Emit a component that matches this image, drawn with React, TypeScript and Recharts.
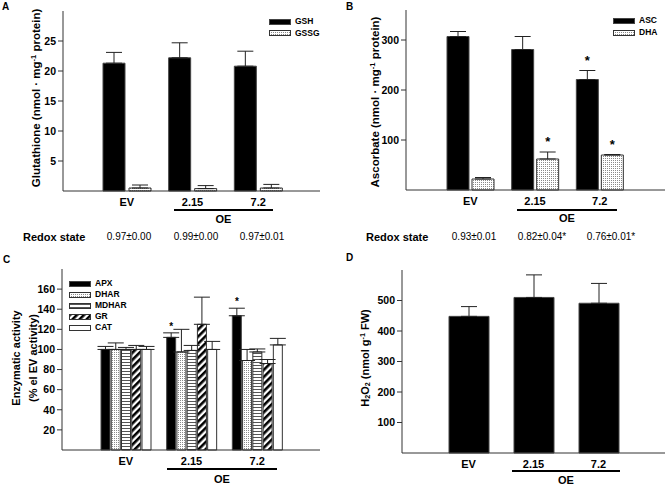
import React from "react";
import { BarChart, Bar, XAxis, YAxis, ErrorBar, LabelList } from "recharts";

const FONT = "'Liberation Sans', Arial, Helvetica, sans-serif";

const groups = ["EV", "2.15", "7.2"];

// A - glutathione
const gshMean = [21.3, 22.2, 20.8];
const gshSd = [1.8, 2.5, 2.5];
const gssgMean = [0.5, 0.4, 0.5];
const gssgSd = [0.5, 0.5, 0.6];
const redoxA = ["0.97±0.00", "0.99±0.00", "0.97±0.01"];
const ticksA = [5, 10, 15, 20, 25];

// B - ascorbate
const ascMean = [307, 281, 221];
const ascSd = [10, 26, 18];
const ascSig = ["", "", "*"];
const dhaMean = [22, 62, 70];
const dhaSd = [3, 14, 1];
const dhaSig = ["", "*", "*"];
const redoxB = ["0.93±0.01", "0.82±0.04*", "0.76±0.01*"];
const ticksB = [100, 200, 300];

// C - enzymatic activity (% of EV)
const apxMean = [100, 112, 133.5];
const apxSd = [3, 4.5, 7.5];
const apxSig = ["", "*", "*"];
const dharMean = [100, 97.5, 89];
const dharSd = [6.5, 22.5, 11];
const mdharMean = [100, 99, 97.5];
const mdharSd = [2, 5, 3];
const grMean = [100, 125, 86];
const grSd = [4, 27, 4];
const catMean = [100, 100, 104.5];
const catSd = [3, 8, 6.5];
const ticksC = [20, 40, 60, 80, 100, 120, 140, 160];

// D - H2O2
const h2o2Mean = [448, 510, 491];
const h2o2Sd = [32, 74, 65];
const ticksD = [100, 200, 300, 400, 500];

type Series = {
  key: string;
  name: string;
  mean: number[];
  sd: number[];
  sig?: string[];
  fill: string;
  stroke: string;
};

const serA: Series[] = [
  { key: "gsh", name: "GSH", mean: gshMean, sd: gshSd, fill: "#000", stroke: "#444" },
  { key: "gssg", name: "GSSG", mean: gssgMean, sd: gssgSd, fill: "url(#dots)", stroke: "#333" },
];
const serB: Series[] = [
  { key: "asc", name: "ASC", mean: ascMean, sd: ascSd, sig: ascSig, fill: "#000", stroke: "#444" },
  { key: "dha", name: "DHA", mean: dhaMean, sd: dhaSd, sig: dhaSig, fill: "url(#dots)", stroke: "#333" },
];
const serC: Series[] = [
  { key: "apx", name: "APX", mean: apxMean, sd: apxSd, sig: apxSig, fill: "#000", stroke: "#444" },
  { key: "dhar", name: "DHAR", mean: dharMean, sd: dharSd, fill: "url(#dots)", stroke: "#333" },
  { key: "mdhar", name: "MDHAR", mean: mdharMean, sd: mdharSd, fill: "url(#hlines)", stroke: "#333" },
  { key: "gr", name: "GR", mean: grMean, sd: grSd, fill: "url(#diag)", stroke: "#333" },
  { key: "cat", name: "CAT", mean: catMean, sd: catSd, fill: "#fff", stroke: "#333" },
];
const serD: Series[] = [
  { key: "h2o2", name: "H2O2", mean: h2o2Mean, sd: h2o2Sd, fill: "#000", stroke: "#444" },
];

function buildRows(series: Series[]) {
  return groups.map((g, i) => {
    const row: any = { group: g, i };
    series.forEach((s) => {
      row[s.key] = s.mean[i];
      row[s.key + "Err"] = [0, s.sd[i]];
    });
    return row;
  });
}

const starContent = (s: Series, size: number, gap: number) => (p: any) => {
  const i = p.value;
  const mark = s.sig ? s.sig[i] : "";
  if (!mark) return null;
  const vb = p.viewBox || p;
  const errPx = s.mean[i] ? (s.sd[i] * vb.height) / s.mean[i] : 0;
  return (
    <text
      x={vb.x + vb.width / 2}
      y={vb.y - errPx - gap}
      textAnchor="middle"
      fontSize={size}
      fontWeight="bold"
      fontFamily={FONT}
      fill="#000"
    >
      {mark}
    </text>
  );
};

const tickStyle = { fill: "#000", fontSize: 10.5, fontWeight: "bold", fontFamily: FONT };

type PanelProps = {
  left: number;
  top: number;
  margin: { top: number; right: number; left: number; bottom: number };
  xHeight: number;
  pad: { left: number; right: number };
  domain: [number, number];
  ticks: number[];
  barSize: number;
  barGap: number;
  series: Series[];
  starSize?: number;
  starGap?: number;
};

function Panel(props: PanelProps) {
  const { left, top, margin, xHeight, pad, domain, ticks, barSize, barGap, series } = props;
  const data = buildRows(series);
  return (
    <div style={{ position: "absolute", left, top }}>
      <BarChart width={333} height={230} data={data} margin={margin} barSize={barSize} barGap={barGap}>
        <XAxis
          dataKey="group"
          padding={pad}
          height={xHeight}
          interval={0}
          tickLine={false}
          tickSize={0}
          tickMargin={7}
          axisLine={{ stroke: "#333" }}
          tick={{ ...tickStyle, fontSize: 11 }}
        />
        <XAxis
          xAxisId="top"
          orientation="top"
          dataKey="group"
          padding={pad}
          height={0}
          tick={false}
          tickLine={false}
          axisLine={{ stroke: "#333" }}
        />
        <YAxis
          type="number"
          domain={domain}
          ticks={ticks}
          width={40}
          tickSize={5}
          tickMargin={2}
          tickLine={{ stroke: "#333" }}
          axisLine={{ stroke: "#333" }}
          tick={tickStyle}
        />
        <YAxis
          yAxisId="r"
          orientation="right"
          type="number"
          domain={domain}
          width={0}
          tick={false}
          tickLine={false}
          axisLine={{ stroke: "#333" }}
        />
        {series.map((s) => (
          <Bar key={s.key} dataKey={s.key} fill={s.fill} stroke={s.stroke} strokeWidth={1} isAnimationActive={false}>
            <ErrorBar dataKey={s.key + "Err"} direction="y" width={8} stroke="#222" strokeWidth={1} isAnimationActive={false} />
            {s.sig && (
              <LabelList
                dataKey={(r: any) => r.i}
                content={starContent(s, props.starSize ?? 13, props.starGap ?? 5)}
              />
            )}
          </Bar>
        ))}
      </BarChart>
    </div>
  );
}

const txt = (extra: React.CSSProperties): React.CSSProperties => ({
  position: "absolute",
  fontFamily: FONT,
  color: "#000",
  whiteSpace: "nowrap",
  lineHeight: 1,
  ...extra,
});

function Centered({ x, y, size = 10, bold = false, children }: any) {
  return (
    <div style={txt({ left: x, top: y, fontSize: size, fontWeight: bold ? "bold" : "normal", transform: "translate(-50%, -50%)" })}>
      {children}
    </div>
  );
}

function VLabel({ x, y, size = 11, children }: any) {
  return (
    <div style={txt({ left: x, top: y, fontSize: size, fontWeight: "bold", transform: "translate(-50%, -50%) rotate(-90deg)" })}>
      {children}
    </div>
  );
}

function Swatches({ left, top, rowH, items }: { left: number; top: number; rowH: number; items: Series[] }) {
  return (
    <div style={{ position: "absolute", left, top }}>
      {items.map((s) => (
        <div key={s.key} style={{ display: "flex", alignItems: "center", height: rowH }}>
          <svg width={22} height={6} style={{ display: "block" }}>
            <rect x={0.5} y={0.5} width={21} height={5} fill={s.fill} stroke={s.stroke} />
          </svg>
          <span style={{ marginLeft: 4, fontSize: 8.5, fontWeight: "bold", fontFamily: FONT, lineHeight: 1 }}>{s.name}</span>
        </div>
      ))}
    </div>
  );
}

function OeBar({ x1, x2, y, textY }: { x1: number; x2: number; y: number; textY: number }) {
  return (
    <>
      <div style={{ position: "absolute", left: x1, top: y - 1, width: x2 - x1, height: 2, background: "#000" }} />
      <Centered x={(x1 + x2) / 2} y={textY} size={11} bold>
        OE
      </Centered>
    </>
  );
}

const sup: React.CSSProperties = { fontSize: "0.65em", verticalAlign: "0.55em" };
const sub: React.CSSProperties = { fontSize: "0.65em", verticalAlign: "-0.25em" };

export default function App() {
  return (
    <div style={{ position: "relative", width: 666, height: 486, background: "#fff", overflow: "hidden" }}>
      <style>{"body{margin:0}"}</style>
      <svg width={0} height={0} style={{ position: "absolute" }}>
        <defs>
          <pattern id="dots" width={2} height={2} patternUnits="userSpaceOnUse">
            <rect width={2} height={2} fill="#fff" />
            <rect width={1} height={1} fill="#8a8a8a" />
          </pattern>
          <pattern id="hlines" width={3} height={3} patternUnits="userSpaceOnUse">
            <rect width={3} height={3} fill="#fff" />
            <rect y={1} width={3} height={1} fill="#555" />
          </pattern>
          <pattern id="diag" width={5} height={5} patternUnits="userSpaceOnUse" patternTransform="rotate(45)">
            <rect width={5} height={5} fill="#fff" />
            <rect width={2.6} height={5} fill="#000" />
          </pattern>
        </defs>
      </svg>

      {/* A */}
      <Panel
        left={0}
        top={0}
        margin={{ top: 11, right: 13, left: 23, bottom: 0 }}
        xHeight={39}
        pad={{ left: 31, right: 29 }}
        domain={[0, 30]}
        ticks={ticksA}
        barSize={22}
        barGap={4}
        series={serA}
      />
      {/* B */}
      <Panel
        left={333}
        top={0}
        margin={{ top: 10, right: 1, left: 33, bottom: 0 }}
        xHeight={40}
        pad={{ left: 32, right: 33 }}
        domain={[0, 360]}
        ticks={ticksB}
        barSize={22}
        barGap={3}
        series={serB}
        starSize={13}
        starGap={6}
      />
      {/* C */}
      <Panel
        left={0}
        top={250}
        margin={{ top: 19, right: 13, left: 22, bottom: 0 }}
        xHeight={30}
        pad={{ left: 31, right: 30 }}
        domain={[0, 180]}
        ticks={ticksC}
        barSize={9}
        barGap={1.25}
        series={serC}
        starSize={10}
        starGap={3}
      />
      {/* D */}
      <Panel
        left={333}
        top={250}
        margin={{ top: 20, right: 1, left: 29, bottom: 0 }}
        xHeight={27}
        pad={{ left: 34, right: 34 }}
        domain={[0, 600]}
        ticks={ticksD}
        barSize={40}
        barGap={2}
        series={serD}
      />

      {/* panel letters */}
      <div style={txt({ left: 2, top: 2, fontSize: 10, fontWeight: "bold" })}>A</div>
      <div style={txt({ left: 346, top: 2, fontSize: 10, fontWeight: "bold" })}>B</div>
      <div style={txt({ left: 3, top: 255, fontSize: 10, fontWeight: "bold" })}>C</div>
      <div style={txt({ left: 346, top: 253, fontSize: 10, fontWeight: "bold" })}>D</div>

      {/* axis titles */}
      <VLabel x={36} y={98} size={11.5}>
        Glutathione (nmol · mg<span style={sup}>-1</span> protein)
      </VLabel>
      <VLabel x={375} y={102} size={11.5}>
        Ascorbate (nmol · mg<span style={sup}>-1</span> protein)
      </VLabel>
      <VLabel x={16} y={358}>
        Enzymatic activity
      </VLabel>
      <VLabel x={33} y={358}>
        (% el EV activity)
      </VLabel>
      <VLabel x={366} y={358}>
        H<span style={sub}>2</span>O<span style={sub}>2</span> (nmol g<span style={sup}>-1</span> FW)
      </VLabel>

      {/* legends */}
      <Swatches left={269} top={15.75} rowH={11.5} items={serA} />
      <Swatches left={613} top={14.5} rowH={12} items={serB} />
      <Swatches left={69} top={278} rowH={11} items={serC} />

      {/* OE brackets */}
      <OeBar x1={174} x2={273} y={210} textY={219} />
      <OeBar x1={517} x2={617} y={209.5} textY={218} />
      <OeBar x1={167} x2={277} y={469} textY={479} />
      <OeBar x1={512} x2={620} y={471} textY={480} />

      {/* redox state rows */}
      <div style={txt({ left: 23, top: 237, fontSize: 11, fontWeight: "bold", transform: "translateY(-50%)" })}>Redox state</div>
      {redoxA.map((v, k) => (
        <Centered key={"ra" + k} x={[129, 196, 262][k]} y={237}>
          {v}
        </Centered>
      ))}
      <div style={txt({ left: 366, top: 237, fontSize: 11, fontWeight: "bold", transform: "translateY(-50%)" })}>Redox state</div>
      {redoxB.map((v, k) => (
        <Centered key={"rb" + k} x={[474, 542, 611][k]} y={237}>
          {v}
        </Centered>
      ))}
    </div>
  );
}
